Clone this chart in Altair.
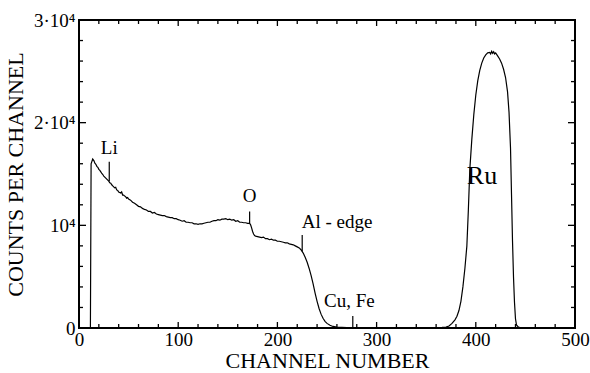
import altair as alt
import pandas as pd

# spectrum
channel = [0, 11.5, 12.2, 13.8, 15, 16, 17, 18, 19, 20, 21, 22, 23, 24, 25, 26, 27, 28, 29, 30,
           31, 32, 33, 34, 35, 36, 37, 38, 39, 40, 41, 42, 43, 44, 45, 46, 47, 48, 49, 50,
           52, 54, 56, 58, 60, 62, 64, 66, 68, 70, 72, 74, 76, 78, 80, 82, 84, 86, 88, 90,
           92, 94, 96, 98, 100, 102, 104, 106, 108, 110, 112, 114, 116, 118, 120, 122, 124, 126, 128, 130,
           132, 134, 136, 138, 140, 142, 144, 146, 148, 150, 152, 154, 156, 158, 160, 162, 164, 166, 168, 170,
           172, 173, 174, 175, 176, 177, 178, 180, 182, 184, 186, 188, 190, 192, 194, 196, 198, 200,
           202, 204, 206, 208, 210, 212, 214, 216, 218, 220, 222, 224, 226, 228, 230, 232, 234, 236,
           238, 240, 242, 244, 246, 248, 250, 253, 256, 260, 265, 270, 275, 280, 290, 300, 310, 320,
           330, 340, 350, 360, 366, 370, 373, 376, 379, 381, 383, 385, 387, 389, 391, 392.5, 394, 396,
           398, 400, 402, 404, 406, 408, 410, 412, 414, 415, 416, 417, 418, 419, 420, 422, 424, 426,
           428, 430, 432, 433.5, 435, 436, 437, 438, 439, 440, 441, 443, 446, 460, 480, 500]
counts = [0, 0, 16000, 16450, 16300, 16050, 15950, 15750, 15650, 15450, 15350, 15200, 15050, 14950, 14800, 14700, 14600, 14500, 14400, 14300,
          14150, 14100, 13950, 13850, 13750, 13650, 13700, 13450, 13400, 13250, 13200, 13150, 13250, 12950, 12950, 12850, 12800, 12650, 12700, 12550,
          12450, 12250, 12150, 12000, 11850, 11800, 11650, 11550, 11500, 11350, 11350, 11200, 11250, 11100, 11050, 11000, 10950, 10950, 10850, 10800,
          10750, 10750, 10650, 10650, 10550, 10500, 10400, 10450, 10300, 10300, 10250, 10250, 10150, 10150, 10100, 10150, 10150, 10200, 10250, 10300,
          10300, 10400, 10450, 10450, 10550, 10500, 10600, 10600, 10650, 10550, 10600, 10500, 10550, 10400, 10450, 10300, 10300, 10250, 10250, 10200,
          10200, 10050, 9750, 9400, 9150, 9000, 8950, 8900, 8850, 8800, 8850, 8700, 8700, 8600, 8650, 8550, 8550, 8450,
          8450, 8400, 8350, 8300, 8300, 8200, 8150, 8100, 8000, 7900, 7800, 7600, 7300, 6900, 6400, 5800, 5100, 4300,
          3400, 2600, 1900, 1350, 950, 650, 450, 260, 150, 90, 60, 40, 40, 30, 40, 30, 40, 30,
          40, 50, 40, 50, 60, 80, 200, 450, 800, 1150, 1700, 2600, 4000, 5800, 8000, 11500, 15500, 18400,
          20800, 22700, 24100, 25100, 25800, 26300, 26600, 26800, 26850, 26700, 26950, 26750, 26900, 26700, 26800, 26500, 26200, 25800,
          25200, 24400, 23000, 21000, 17500, 13000, 8500, 5000, 2500, 900, 300, 80, 0, 0, 0, 0]

# element markers
mark_names = ["Li", "O", "Al - edge", "Cu, Fe"]
mark_channel = [30.5, 172, 225, 276]
mark_low = [14300, 10200, 7450, 0]
mark_high = [16200, 11350, 9060, 1170]

# labels
label_text = ["Li", "O", "Al - edge", "Cu, Fe"]
label_channel = [30.5, 172, 224.5, 247]
label_counts = [16950, 12250, 9700, 2080]
label_align = ["center", "center", "left", "left"]

ru_text = ["Ru"]
ru_channel = [391]
ru_counts = [14000]

x_major = [0, 100, 200, 300, 400, 500]
x_minor = [v for v in range(20, 500, 20) if v % 100 != 0]
y_major = [0, 10000, 20000, 30000]
y_minor = [v for v in range(2000, 30000, 2000) if v % 10000 != 0]

FONT = "Liberation Serif, Times New Roman, DejaVu Serif, serif"
W, H = 496, 308

spec = pd.DataFrame({"channel": channel, "counts": counts})
marks = pd.DataFrame({"channel": mark_channel, "counts": mark_low, "high": mark_high})
labels = pd.DataFrame({"text": label_text, "channel": label_channel, "counts": label_counts, "align": label_align})
ru = pd.DataFrame({"text": ru_text, "channel": ru_channel, "counts": ru_counts})

xs = alt.Scale(domain=[0, 500], nice=False, zero=False)
ys = alt.Scale(domain=[0, 30000], nice=False, zero=False)

x_axis = alt.Axis(values=x_major, ticks=False, domain=False, grid=False,
                  labelFont=FONT, labelFontSize=19, labelColor="black", labelPadding=2,
                  labelFlush=False,
                  titleFont=FONT, titleFontSize=22, titleFontWeight="normal", titleColor="black",
                  titlePadding=1)
y_axis = alt.Axis(values=y_major, ticks=False, domain=False, grid=False,
                  labelExpr="datum.value == 0 ? '0' : datum.value == 10000 ? '10⁴' : datum.value == 20000 ? '2·10⁴' : '3·10⁴'",
                  labelFont=FONT, labelFontSize=19, labelColor="black", labelPadding=4,
                  labelFlush=False,
                  titleFont=FONT, titleFontSize=22, titleFontWeight="normal", titleColor="black",
                  titlePadding=6)

X = alt.X("channel:Q", scale=xs, title="CHANNEL  NUMBER", axis=x_axis)
Y = alt.Y("counts:Q", scale=ys, title="COUNTS PER CHANNEL", axis=y_axis)

line = alt.Chart(spec).mark_line(color="black", strokeWidth=1.2).encode(x=X, y=Y)

markers = alt.Chart(marks).mark_rule(color="black", strokeWidth=1.2).encode(
    x=X, y=Y, y2="high:Q",
)

def txt(df, align):
    return alt.Chart(df).transform_filter(alt.datum.align == align).mark_text(
        font=FONT, fontSize=19, color="black", align=align, baseline="alphabetic"
    ).encode(x=X, y=Y, text="text:N")

ru_txt = alt.Chart(ru).mark_text(font=FONT, fontSize=26, color="black", align="left",
                                 baseline="alphabetic").encode(x=X, y=Y, text="text:N")

def xticks(vals, length):
    df = pd.DataFrame({"channel": vals})
    b = alt.Chart(df).mark_rule(color="black", strokeWidth=1.3).encode(
        x=X, y=alt.value(H), y2=alt.value(H - length))
    t = alt.Chart(df).mark_rule(color="black", strokeWidth=1.3).encode(
        x=X, y=alt.value(0), y2=alt.value(length))
    return [b, t]

def yticks(vals, length):
    df = pd.DataFrame({"counts": vals})
    l = alt.Chart(df).mark_rule(color="black", strokeWidth=1.3).encode(
        y=Y, x=alt.value(0), x2=alt.value(length))
    r = alt.Chart(df).mark_rule(color="black", strokeWidth=1.3).encode(
        y=Y, x=alt.value(W), x2=alt.value(W - length))
    return [l, r]

layers = [line, markers, txt(labels, "center"), txt(labels, "left"), ru_txt]
layers += xticks(x_major, 6) + xticks(x_minor, 4) + yticks(y_major, 7) + yticks(y_minor, 4)

chart = alt.layer(*layers).properties(
    width=W, height=H,
    autosize=alt.AutoSizeParams(type="none"),
    padding={"left": 79, "top": 20, "right": 15, "bottom": 45},
    background="white",
).configure_view(stroke="black", strokeWidth=2)

chart.save("out.html", embed_options={"renderer": "svg", "actions": False})
